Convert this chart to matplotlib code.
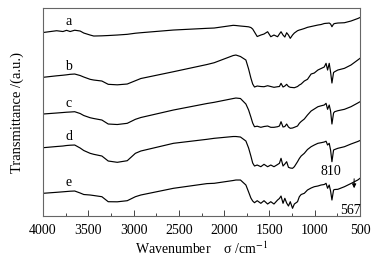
import numpy as np
import matplotlib
matplotlib.use("Agg")
import matplotlib.pyplot as plt
from matplotlib.ticker import MultipleLocator

plt.rcParams["font.family"] = ["Liberation Serif", "DejaVu Serif"]
plt.rcParams["mathtext.fontset"] = "stix"

# shared wavenumber grid (cm-1)
wavenumber = [4000, 3850, 3780, 3740, 3700, 3650, 3590, 3550, 3480, 3440,
              3350, 3280, 3180, 3070, 2980, 2920, 2560, 2190, 2110, 1900,
              1870, 1820, 1760, 1730, 1705, 1685, 1665, 1635, 1595, 1560,
              1520, 1485, 1450, 1410, 1390, 1372, 1350, 1330, 1310, 1290,
              1270, 1245, 1225, 1190, 1170, 1150, 1115, 1080, 1040, 1005,
              965, 930, 895, 875, 858, 840, 825, 810, 792, 780,
              745, 672, 600, 525, 500]

# transmittance (a.u., stacked)
curve_a = [183.5, 185.3, 184.5, 185.7, 184.5, 185.8, 185.0, 183.0, 181.0, 180.0,
           180.2, 180.5, 181.0, 181.7, 182.8, 183.3, 186.0, 187.7, 188.0, 190.7,
           190.5, 190.0, 189.5, 189.2, 188.5, 187.0, 184.0, 179.5, 181.0, 182.0,
           184.3, 179.3, 181.0, 179.3, 182.0, 184.3, 181.0, 179.0, 183.3, 181.0,
           177.7, 181.0, 183.0, 185.3, 186.0, 186.5, 187.5, 188.7, 189.5, 190.2,
           191.0, 191.5, 192.5, 192.7, 192.8, 193.0, 192.0, 189.3, 192.0, 192.5,
           193.0, 193.3, 195.0, 197.5, 198.5]
curve_b = [138.7, 140.2, 140.8, 141.2, 141.7, 142.0, 140.5, 139.0, 136.7, 136.0,
           135.0, 131.7, 131.2, 132.0, 135.3, 137.5, 144.3, 151.5, 153.3, 160.5,
           161.0, 159.5, 156.0, 147.0, 138.0, 132.0, 129.0, 130.0, 129.5, 129.3,
           130.3, 129.5, 128.7, 129.3, 129.5, 132.7, 129.0, 130.0, 131.7, 129.5,
           128.7, 128.5, 128.3, 129.5, 131.0, 132.0, 135.0, 136.7, 142.0, 143.0,
           146.0, 147.5, 149.0, 152.7, 146.0, 152.7, 144.0, 133.0, 143.5, 144.3,
           146.0, 147.7, 151.0, 156.0, 157.7]
curve_c = [102.0, 103.0, 103.5, 103.8, 104.0, 104.3, 102.5, 100.5, 98.3, 97.5,
           96.0, 92.0, 91.5, 92.7, 96.7, 98.5, 106.0, 112.5, 113.7, 117.5,
           118.0, 117.5, 112.0, 106.0, 99.0, 93.0, 89.3, 89.8, 88.7, 89.5,
           90.0, 88.7, 88.7, 89.3, 90.0, 94.3, 89.0, 89.5, 92.0, 89.0,
           87.7, 88.0, 88.7, 90.0, 92.7, 94.5, 97.0, 101.0, 105.0, 107.0,
           109.3, 110.2, 111.0, 112.7, 106.7, 111.0, 105.0, 92.0, 103.0, 104.3,
           105.3, 106.7, 109.3, 113.0, 114.3]
curve_d = [68.3, 69.5, 70.0, 70.5, 70.8, 71.0, 68.0, 65.5, 62.7, 61.7,
           60.0, 55.0, 53.7, 55.3, 62.7, 65.0, 72.7, 76.7, 77.7, 79.5,
           79.5, 79.0, 75.0, 68.0, 60.0, 53.0, 50.0, 51.0, 49.3, 51.7,
           49.3, 51.0, 49.3, 51.5, 52.7, 57.7, 50.0, 52.0, 54.3, 48.7,
           48.0, 47.7, 49.3, 54.3, 57.5, 60.0, 62.7, 66.5, 69.3, 71.0,
           72.7, 73.3, 74.0, 74.8, 71.0, 72.7, 66.0, 54.3, 66.0, 66.5,
           67.7, 69.3, 72.0, 74.5, 75.5]
curve_e = [22.7, 23.7, 24.2, 24.5, 24.8, 25.0, 23.0, 21.5, 21.0, 20.5,
           19.3, 14.3, 14.2, 15.3, 19.3, 21.0, 27.7, 32.4, 32.7, 35.5,
           36.0, 36.0, 31.0, 24.0, 18.0, 15.0, 13.3, 15.3, 12.7, 15.3,
           12.0, 14.3, 12.0, 16.0, 17.5, 20.0, 12.7, 17.7, 13.0, 10.0,
           14.3, 7.7, 12.0, 14.3, 19.3, 21.5, 22.7, 26.0, 28.0, 29.3,
           30.0, 31.0, 31.5, 32.7, 27.7, 31.0, 25.0, 16.0, 26.0, 26.5,
           26.7, 29.3, 32.5, 36.0, 37.7]

curves = [curve_a, curve_b, curve_c, curve_d, curve_e]
curve_names = ["a", "b", "c", "d", "e"]

fig = plt.figure(figsize=(3.85, 2.59), dpi=100)
ax = fig.add_axes([0.1117, 0.166, 0.8234, 0.803])

for name, y in zip(curve_names, curves):
    ax.plot(wavenumber, y, color="black", linewidth=0.85)
    ax.text(3715, y[0] + 11, name, ha="center", va="center", fontsize=10)

# peak annotations
ax.text(820, 45, "810", ha="center", va="center", fontsize=10)
ax.annotate("", xy=(565, 25), xytext=(565, 40),
            arrowprops=dict(arrowstyle="-|>", color="black", lw=0.7,
                            mutation_scale=6))
ax.text(610, 6, "567", ha="center", va="center", fontsize=10)

ax.set_xlim(4000, 500)
ax.set_ylim(0, 208)
ax.xaxis.set_major_locator(MultipleLocator(500))
ax.xaxis.set_minor_locator(MultipleLocator(250))
ax.set_yticks([])
ax.tick_params(axis="x", which="major", direction="in", length=4.5,
               width=0.7, color="#444444", labelsize=10, pad=6)
ax.tick_params(axis="x", which="minor", direction="in", length=2.2,
               width=0.7, color="#444444")
for sp in ax.spines.values():
    sp.set_color("#666666")
    sp.set_linewidth(0.8)

ax.set_xlabel(r"Wavenumber    σ /cm$^{-1}$", fontsize=10, labelpad=2)
ax.set_ylabel("Transmittance /(a.u.)", fontsize=10.5, labelpad=14)

fig.savefig("out.png", dpi=100)
